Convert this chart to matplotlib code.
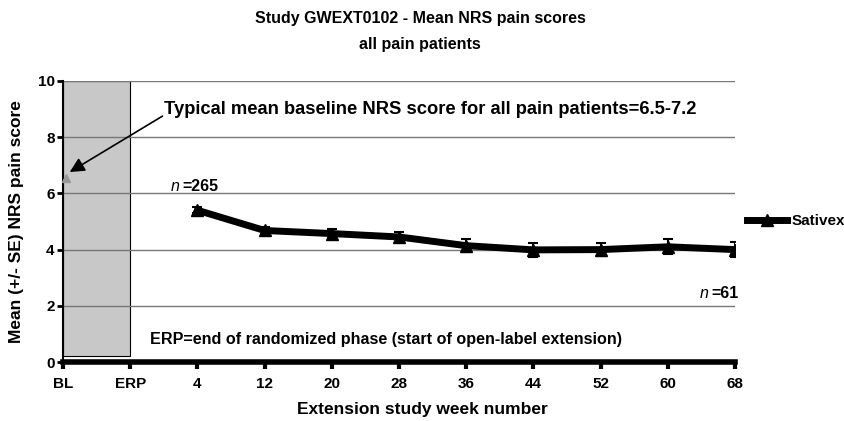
import matplotlib.pyplot as plt
from matplotlib.patches import Rectangle

plt.rcParams['font.family'] = ['Liberation Sans', 'DejaVu Sans']
plt.rcParams['font.weight'] = 'bold'

categories = ['BL', 'ERP', '4', '12', '20', '28', '36', '44', '52', '60', '68']
weeks = ['4', '12', '20', '28', '36', '44', '52', '60', '68']
mean_nrs = [5.40, 4.68, 4.57, 4.45, 4.14, 3.99, 4.00, 4.10, 4.00]
se_nrs = [0.10, 0.13, 0.15, 0.18, 0.22, 0.24, 0.24, 0.27, 0.28]
baseline_nrs = 6.55
n_first, n_last = 265, 61

xpos = {c: i for i, c in enumerate(categories)}
wx = [xpos[w] for w in weeks]

fig = plt.figure(figsize=(8.45, 4.21), dpi=100)
ax = fig.add_axes([63 / 845, 1 - 362 / 421, (735 - 63) / 845, (362 - 81) / 421])

# randomized phase shading between BL and ERP
ax.add_patch(Rectangle((0, 0.2), 1, 9.8, facecolor='#c8c8c8', edgecolor='black',
                       linewidth=0.8, zorder=1))

for yv in [2, 4, 6, 8, 10]:
    ax.axhline(yv, color='#777777', linewidth=1.0, zorder=2)

ax.errorbar(wx, mean_nrs, yerr=se_nrs, color='black', linewidth=5, marker='^',
            markersize=8, capsize=3.5, elinewidth=1.5, capthick=1.5, zorder=4)
ax.plot([], [], color='black', linewidth=5, marker='^', markersize=8, label='Sativex')
ax.plot([0.05], [baseline_nrs], marker='^', color='#999999', markersize=6,
        zorder=3, clip_on=False)

ax.set_xlim(0, 10)
ax.set_ylim(0, 10)
ax.set_xticks(range(len(categories)))
ax.set_xticklabels(categories)
ax.set_yticks([0, 2, 4, 6, 8, 10])
ax.tick_params(axis='x', direction='out', length=5, width=3, labelsize=11, pad=6)
ax.tick_params(axis='y', direction='out', length=4, width=2, labelsize=11, pad=2)
for lab in ax.get_xticklabels() + ax.get_yticklabels():
    lab.set_fontweight('bold')

ax.spines['top'].set_visible(False)
ax.spines['right'].set_visible(False)
ax.spines['bottom'].set_linewidth(4)
ax.spines['left'].set_linewidth(1.5)

ax.set_ylabel('Mean (+/- SE) NRS pain score', fontsize=12.5, fontweight='bold', labelpad=10)
fig.text(0.5, 0.01, 'Extension study week number', ha='center', va='bottom',
         fontsize=12.5, fontweight='bold')
fig.text(0.497, 1 - 18 / 421, 'Study GWEXT0102 - Mean NRS pain scores',
         ha='center', va='center', fontsize=11.5, fontweight='bold')
fig.text(0.497, 1 - 44 / 421, 'all pain patients',
         ha='center', va='center', fontsize=11.5, fontweight='bold')

ax.text(1.5, 9.0, 'Typical mean baseline NRS score for all pain patients=6.5-7.2',
        fontsize=13.2, fontweight='bold', va='center', ha='left')
ax.annotate('', xy=(0.1, 6.76), xytext=(1.48, 8.75),
            arrowprops=dict(arrowstyle='-|>', color='black', lw=1.2,
                            mutation_scale=22, shrinkA=0, shrinkB=0))
ax.text(1.6, 6.25, 'n', fontsize=11.5, fontstyle='italic', fontweight='normal',
        ha='left', va='center')
ax.text(1.78, 6.25, f'={n_first}', fontsize=11.5, fontweight='bold', ha='left', va='center')
ax.text(9.47, 2.45, 'n', fontsize=11.5, fontstyle='italic', fontweight='normal',
        ha='left', va='center')
ax.text(9.65, 2.45, f'={n_last}', fontsize=11.5, fontweight='bold', ha='left', va='center')
ax.text(1.3, 0.8, 'ERP=end of randomized phase (start of open-label extension)',
        fontsize=11.6, fontweight='bold', ha='left', va='center')

ax.legend(loc='center left', bbox_to_anchor=(1.0, 0.502), frameon=False,
          fontsize=11, handlelength=2.6, handletextpad=0.3, borderaxespad=0.6,
          borderpad=0.2)

fig.savefig('out.png', dpi=100)
